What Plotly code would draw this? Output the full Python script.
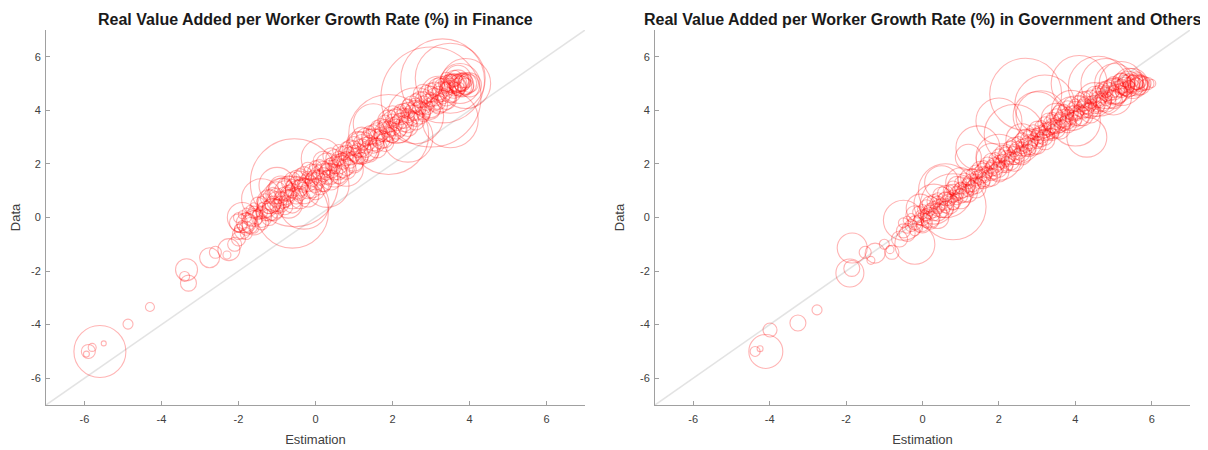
import plotly.graph_objects as go

# ---------------- Data: Finance ----------------
fin_est = [
    # lower tail
    -5.6, -5.9, -5.8, -5.95, -5.5, -4.87, -4.3,
    -3.35, -3.3, -3.4, -2.75, -2.6, -2.25, -2.1, -2.3,
    # band
    -2.0, -2.0, -2.0, -2.0, -2.0,
    -1.9, -1.9, -1.9,
    -1.8, -1.8, -1.8, -1.8, -1.8,
    -1.7, -1.7, -1.7,
    -1.6, -1.6, -1.6, -1.6, -1.6,
    -1.5, -1.5, -1.5,
    -1.4, -1.4, -1.4, -1.4, -1.4,
    -1.3, -1.3, -1.3,
    -1.2, -1.2, -1.2, -1.2, -1.2,
    -1.1, -1.1, -1.1,
    -1.0, -1.0, -1.0, -1.0, -1.0,
    -0.9, -0.9, -0.9,
    -0.8, -0.8, -0.8, -0.8, -0.8,
    -0.7, -0.7, -0.7,
    -0.6, -0.6, -0.6, -0.6, -0.6,
    -0.5, -0.5, -0.5,
    -0.4, -0.4, -0.4, -0.4, -0.4,
    -0.3, -0.3, -0.3,
    -0.2, -0.2, -0.2, -0.2, -0.2,
    -0.1, -0.1, -0.1,
    0.0, 0.0, 0.0, 0.0, 0.0,
    0.1, 0.1, 0.1,
    0.2, 0.2, 0.2, 0.2, 0.2,
    0.3, 0.3, 0.3,
    0.4, 0.4, 0.4, 0.4, 0.4,
    0.5, 0.5, 0.5,
    0.6, 0.6, 0.6, 0.6, 0.6,
    0.7, 0.7, 0.7,
    0.8, 0.8, 0.8, 0.8, 0.8,
    0.9, 0.9, 0.9,
    1.0, 1.0, 1.0, 1.0, 1.0,
    1.1, 1.1, 1.1,
    1.2, 1.2, 1.2, 1.2, 1.2,
    1.3, 1.3, 1.3,
    1.4, 1.4, 1.4, 1.4, 1.4,
    1.5, 1.5, 1.5,
    1.6, 1.6, 1.6, 1.6, 1.6,
    1.7, 1.7, 1.7,
    1.8, 1.8, 1.8, 1.8, 1.8,
    1.9, 1.9, 1.9,
    2.0, 2.0, 2.0, 2.0, 2.0,
    2.1, 2.1, 2.1,
    2.2, 2.2, 2.2, 2.2, 2.2,
    2.3, 2.3, 2.3,
    2.4, 2.4, 2.4, 2.4, 2.4,
    2.5, 2.5, 2.5,
    2.6, 2.6, 2.6, 2.6, 2.6,
    2.7, 2.7, 2.7,
    2.8, 2.8, 2.8, 2.8, 2.8,
    2.9, 2.9, 2.9,
    3.0, 3.0, 3.0, 3.0, 3.0,
    3.1, 3.1, 3.1,
    3.2, 3.2, 3.2, 3.2, 3.2,
    3.3, 3.3, 3.3,
    3.4, 3.4, 3.4, 3.4, 3.4,
    3.5, 3.5, 3.5, 3.5,
    3.6, 3.6, 3.6, 3.6, 3.6,
    3.7, 3.7, 3.7, 3.7, 3.7,
    3.8, 3.8, 3.8, 3.8, 3.8,
    3.9, 3.9, 3.9,
    4.0, 4.0,
    # medium / large circles
    -0.55, -0.6, -0.3, -1.9, -1.4, -1.0, 0.15, 0.3, 0.8,
    1.9, 1.5, 2.4, 3.0, 3.5, 3.3, 3.9, 3.5, 2.6,
    -0.9, 0.5, 1.2, 2.1, 3.2, 3.75,
]
fin_data = [
    -5.0, -5.0, -4.85, -5.1, -4.7, -3.98, -3.34,
    -1.95, -2.45, -2.2, -1.5, -1.3, -1.2, -1.0, -1.4,
    -0.6, -0.2, -0.4, 0.0, -0.8,
    -0.3, -0.5, 0.1,
    -0.4, 0.0, -0.2, 0.2, -0.6,
    -0.1, 0.3, -0.3,
    0.0, -0.4, 0.2, 0.4, -0.2,
    0.1, 0.5, -0.1,
    0.2, 0.0, 0.4, 0.6, -0.2,
    0.3, 0.7, 0.1,
    0.4, 0.2, 0.6, 0.8, 0.0,
    0.5, 0.9, 0.3,
    0.6, 0.4, 0.8, 1.0, 0.2,
    0.7, 1.1, 0.5,
    0.8, 0.6, 1.0, 1.2, 0.4,
    0.9, 1.3, 0.5,
    1.0, 0.7, 1.2, 1.4, 0.5,
    1.1, 0.8, 1.5,
    1.1, 0.9, 1.4, 1.6, 0.7,
    1.2, 1.0, 1.6,
    1.3, 1.0, 1.5, 1.8, 0.8,
    1.4, 1.1, 1.7,
    1.4, 1.2, 1.7, 1.9, 1.0,
    1.5, 1.3, 1.9,
    1.6, 1.3, 1.8, 2.1, 1.2,
    1.7, 1.5, 2.0,
    1.8, 1.5, 2.0, 2.3, 1.4,
    1.9, 1.7, 2.2,
    2.0, 1.7, 2.2, 2.5, 1.6,
    2.1, 1.9, 2.4,
    2.2, 1.9, 2.4, 2.6, 1.8,
    2.3, 2.1, 2.6,
    2.4, 2.1, 2.6, 2.8, 2.0,
    2.5, 2.3, 2.8,
    2.6, 2.3, 2.8, 3.0, 2.2,
    2.7, 2.5, 3.0,
    2.8, 2.5, 3.0, 3.2, 2.4,
    2.9, 2.7, 3.2,
    3.0, 2.7, 3.2, 3.4, 2.6,
    3.1, 2.9, 3.4,
    3.2, 2.9, 3.4, 3.6, 2.8,
    3.3, 3.1, 3.6,
    3.4, 3.1, 3.6, 3.8, 3.0,
    3.5, 3.3, 3.8,
    3.6, 3.3, 3.8, 4.0, 3.2,
    3.7, 3.5, 4.0,
    3.8, 3.5, 4.0, 4.2, 3.4,
    3.9, 3.7, 4.2,
    4.0, 3.7, 4.2, 4.4, 3.6,
    4.1, 3.9, 4.4,
    4.2, 3.9, 4.4, 4.6, 3.8,
    4.3, 4.1, 4.6,
    4.4, 4.1, 4.6, 4.8, 4.0,
    4.5, 4.3, 4.8,
    4.6, 4.3, 4.8, 5.0, 4.2,
    4.7, 4.5, 4.9,
    4.8, 4.5, 5.0, 5.2, 4.4,
    4.9, 4.7, 5.1, 5.0,
    5.0, 4.8, 5.2, 4.9, 5.1,
    5.0, 4.9, 5.1, 4.8, 5.2,
    5.0, 4.9, 5.1, 4.95, 5.05,
    5.0, 4.9, 5.1,
    5.0, 4.95,
    1.3, 0.2, 0.5, 0.0, 0.7, 1.2, 2.2, 1.2, 1.8,
    3.1, 3.5, 3.0, 4.5, 5.2, 5.1, 5.0, 3.65, 3.8,
    0.9, 1.7, 2.6, 3.4, 4.6, 5.0,
]
fin_size = [
    52, 14, 8, 6, 5, 10, 9,
    22, 16, 10, 20, 12, 22, 14, 8,
    12, 18, 8, 10, 14,
    10, 16, 8,
    14, 10, 20, 8, 12,
    12, 8, 16,
    18, 10, 12, 8, 24,
    10, 14, 8,
    12, 20, 8, 10, 14,
    16, 10, 12,
    14, 18, 24, 12, 16,
    16, 12, 22,
    20, 14, 16, 18, 12,
    14, 24, 16,
    18, 12, 20, 14, 16,
    16, 14, 28,
    14, 20, 12, 16, 18,
    22, 16, 14,
    16, 14, 18, 12, 20,
    14, 26, 16,
    18, 16, 12, 14, 22,
    14, 20, 16,
    20, 14, 16, 12, 18,
    16, 24, 14,
    14, 18, 16, 20, 12,
    16, 14, 22,
    18, 14, 12, 16, 20,
    14, 16, 18,
    20, 16, 14, 12, 18,
    16, 22, 14,
    14, 18, 16, 12, 20,
    18, 14, 16,
    16, 20, 14, 12, 18,
    14, 16, 22,
    18, 14, 16, 20, 12,
    16, 14, 18,
    14, 20, 16, 12, 18,
    22, 16, 14,
    16, 14, 18, 12, 20,
    14, 18, 16,
    20, 16, 14, 12, 18,
    16, 14, 22,
    18, 16, 14, 20, 12,
    14, 20, 16,
    16, 14, 18, 12, 22,
    20, 16, 14,
    14, 18, 16, 12, 20,
    16, 14, 18,
    20, 16, 14, 12, 18,
    14, 22, 16,
    18, 14, 16, 20, 12,
    16, 14, 18,
    14, 20, 16, 12, 18,
    18, 16, 14,
    16, 14, 22, 12, 18,
    20, 14, 16,
    14, 18, 16, 12, 20,
    16, 22, 14, 18,
    20, 14, 16, 24, 12,
    18, 16, 22, 14, 26,
    16, 20, 14, 24, 18,
    22, 16, 14,
    18, 24,
    88, 72, 50, 30, 40, 36, 40, 44, 34,
    80, 40, 50, 100, 70, 84, 50, 56, 56,
    30, 30, 32, 34, 36, 40,
]

# ---------------- Data: Government and Others ----------------
gov_est = [
    # lower tail
    -4.1, -4.38, -4.25, -3.99, -3.26, -2.76, -1.9, -1.85, -1.84, -1.24, -0.8, -0.85, -1.0, -0.6,
    -0.2, -1.5, -1.35, -0.5,
    # band
    -0.5, -0.5,
    -0.4, -0.4, -0.4,
    -0.3, -0.3,
    -0.2, -0.2, -0.2,
    -0.1, -0.1, -0.1,
    0.0, 0.0, 0.0, 0.0, 0.0,
    0.1, 0.1, 0.1,
    0.2, 0.2, 0.2, 0.2, 0.2,
    0.3, 0.3, 0.3,
    0.4, 0.4, 0.4, 0.4, 0.4,
    0.5, 0.5, 0.5,
    0.6, 0.6, 0.6, 0.6, 0.6,
    0.7, 0.7, 0.7,
    0.8, 0.8, 0.8, 0.8, 0.8,
    0.9, 0.9, 0.9,
    1.0, 1.0, 1.0, 1.0, 1.0,
    1.1, 1.1, 1.1,
    1.2, 1.2, 1.2, 1.2, 1.2,
    1.3, 1.3, 1.3,
    1.4, 1.4, 1.4, 1.4, 1.4,
    1.5, 1.5, 1.5,
    1.6, 1.6, 1.6, 1.6, 1.6,
    1.7, 1.7, 1.7,
    1.8, 1.8, 1.8, 1.8, 1.8,
    1.9, 1.9, 1.9,
    2.0, 2.0, 2.0, 2.0, 2.0,
    2.1, 2.1, 2.1,
    2.2, 2.2, 2.2, 2.2, 2.2,
    2.3, 2.3, 2.3,
    2.4, 2.4, 2.4, 2.4, 2.4,
    2.5, 2.5, 2.5,
    2.6, 2.6, 2.6, 2.6, 2.6,
    2.7, 2.7, 2.7,
    2.8, 2.8, 2.8, 2.8, 2.8,
    2.9, 2.9, 2.9,
    3.0, 3.0, 3.0, 3.0, 3.0,
    3.1, 3.1, 3.1,
    3.2, 3.2, 3.2, 3.2, 3.2,
    3.3, 3.3, 3.3,
    3.4, 3.4, 3.4, 3.4, 3.4,
    3.5, 3.5, 3.5,
    3.6, 3.6, 3.6, 3.6, 3.6,
    3.7, 3.7, 3.7,
    3.8, 3.8, 3.8, 3.8, 3.8,
    3.9, 3.9, 3.9,
    4.0, 4.0, 4.0, 4.0, 4.0,
    4.1, 4.1, 4.1,
    4.2, 4.2, 4.2, 4.2, 4.2,
    4.3, 4.3, 4.3,
    4.4, 4.4, 4.4, 4.4, 4.4,
    4.5, 4.5, 4.5,
    4.6, 4.6, 4.6, 4.6, 4.6,
    4.7, 4.7, 4.7,
    4.8, 4.8, 4.8, 4.8, 4.8,
    4.9, 4.9, 4.9,
    5.0, 5.0, 5.0, 5.0, 5.0,
    5.1, 5.1, 5.1,
    5.2, 5.2, 5.2, 5.2, 5.2,
    5.3, 5.3, 5.3,
    5.4, 5.4, 5.4, 5.4, 5.4,
    5.5, 5.5, 5.5,
    5.6, 5.6, 5.6, 5.6, 5.6,
    5.7, 5.7, 5.7,
    5.8, 5.8,
    5.9,
    6.0,
    # medium / large circles
    0.3, 0.6, 0.8, 0.5, 1.2, 1.45, 2.0, -0.06,
    2.7, 3.2, 4.1, 3.1, 4.0, 2.0, 4.3, 2.4, 3.9, 3.0,
    4.8, 5.2, 5.0, 4.6, 5.5, 5.03, 5.4,
    1.0, 1.8, 2.6, 3.5, 4.5,
]
gov_data = [
    -5.0, -5.0, -4.9, -4.2, -3.94, -3.45, -2.07, -1.9, -1.14, -1.33, -1.3, -1.2, -1.0, -0.8,
    -1.0, -1.3, -1.6, -0.1,
    -0.5, -0.2,
    -0.4, -0.6, -0.1,
    -0.3, 0.0,
    -0.2, -0.5, 0.1,
    -0.1, 0.2, -0.4,
    0.0, -0.3, 0.3, 0.1, -0.2,
    0.1, -0.2, 0.4,
    0.2, 0.0, 0.5, 0.3, -0.1,
    0.3, 0.1, 0.6,
    0.4, 0.2, 0.7, 0.5, 0.0,
    0.5, 0.3, 0.8,
    0.6, 0.4, 0.9, 0.7, 0.3,
    0.7, 0.5, 1.0,
    0.8, 0.6, 1.1, 0.9, 0.5,
    0.9, 0.7, 1.2,
    1.0, 0.8, 1.3, 1.1, 0.7,
    1.1, 0.9, 1.4,
    1.2, 1.0, 1.5, 1.3, 0.9,
    1.3, 1.1, 1.6,
    1.4, 1.2, 1.7, 1.5, 1.1,
    1.5, 1.3, 1.8,
    1.6, 1.4, 1.9, 1.7, 1.3,
    1.7, 1.5, 2.0,
    1.8, 1.6, 2.1, 1.9, 1.5,
    1.9, 1.7, 2.2,
    2.0, 1.8, 2.3, 2.1, 1.7,
    2.1, 1.9, 2.4,
    2.2, 2.0, 2.5, 2.3, 1.9,
    2.3, 2.1, 2.6,
    2.4, 2.2, 2.7, 2.5, 2.1,
    2.5, 2.3, 2.8,
    2.6, 2.4, 2.9, 2.7, 2.3,
    2.7, 2.5, 3.0,
    2.8, 2.6, 3.1, 2.9, 2.5,
    2.9, 2.7, 3.2,
    3.0, 2.8, 3.3, 3.1, 2.7,
    3.1, 2.9, 3.4,
    3.2, 3.0, 3.5, 3.3, 2.9,
    3.3, 3.1, 3.6,
    3.4, 3.2, 3.7, 3.5, 3.1,
    3.5, 3.3, 3.8,
    3.6, 3.4, 3.9, 3.7, 3.3,
    3.7, 3.5, 4.0,
    3.8, 3.6, 4.1, 3.9, 3.5,
    3.9, 3.7, 4.2,
    3.9, 3.7, 4.2, 4.0, 3.6,
    4.0, 3.8, 4.3,
    4.1, 3.9, 4.4, 4.2, 3.8,
    4.2, 4.0, 4.5,
    4.2, 4.0, 4.5, 4.3, 3.9,
    4.3, 4.1, 4.6,
    4.4, 4.2, 4.7, 4.5, 4.1,
    4.5, 4.3, 4.8,
    4.6, 4.4, 4.8, 4.7, 4.3,
    4.7, 4.5, 4.9,
    4.7, 4.5, 5.0, 4.8, 4.4,
    4.8, 4.6, 5.0,
    4.9, 4.7, 5.1, 4.8, 5.0,
    4.9, 4.8, 5.1,
    5.0, 4.8, 5.1, 4.9, 5.05,
    5.0, 4.9, 5.1,
    5.0, 4.9, 5.05, 4.95, 5.1,
    5.0, 4.95, 5.05,
    5.0, 4.95,
    5.0,
    5.0,
    0.5, 1.0, 0.4, 1.3, 2.25, 2.6, 2.25, 0.35,
    4.6, 4.2, 5.0, 3.8, 3.6, 3.6, 3.0, 3.1, 4.0, 3.8,
    5.0, 5.0, 4.5, 4.9, 5.0, 5.0, 5.05,
    1.3, 2.2, 2.9, 3.7, 4.4,
]
gov_size = [
    34, 10, 6, 14, 16, 10, 28, 16, 30, 20, 14, 8, 10, 16,
    40, 12, 8, 40,
    14, 10,
    10, 16, 8,
    12, 8,
    14, 10, 18,
    10, 12, 8,
    16, 12, 10, 8, 20,
    12, 10, 14,
    14, 20, 16, 12, 18,
    16, 12, 14,
    14, 18, 12, 16, 22,
    12, 16, 18,
    18, 12, 16, 14, 16,
    14, 20, 12,
    12, 16, 14, 18, 12,
    14, 12, 18,
    16, 14, 12, 12, 20,
    12, 18, 14,
    14, 12, 16, 12, 18,
    18, 14, 12,
    12, 16, 14, 12, 20,
    14, 12, 16,
    16, 14, 12, 18, 12,
    12, 20, 14,
    14, 12, 16, 12, 18,
    18, 14, 12,
    12, 16, 14, 12, 20,
    14, 12, 16,
    16, 14, 12, 18, 12,
    12, 18, 14,
    14, 12, 16, 12, 20,
    18, 14, 12,
    12, 16, 14, 12, 18,
    14, 12, 16,
    16, 14, 12, 18, 12,
    12, 20, 14,
    14, 12, 16, 12, 18,
    18, 14, 12,
    12, 16, 14, 12, 20,
    14, 12, 16,
    16, 14, 12, 18, 12,
    12, 18, 14,
    14, 12, 16, 12, 20,
    18, 14, 12,
    12, 16, 14, 12, 18,
    14, 12, 16,
    16, 14, 12, 18, 12,
    12, 20, 14,
    14, 12, 16, 12, 20,
    18, 14, 12,
    12, 16, 14, 12, 20,
    14, 12, 16,
    16, 14, 12, 18, 12,
    12, 18, 14,
    14, 12, 16, 12, 20,
    18, 14, 12,
    12, 16, 14, 22, 18,
    16, 20, 12,
    14, 12, 16, 12, 20,
    18, 14, 12,
    12, 16, 14, 12, 22,
    16, 14, 12,
    12, 16, 14, 22, 18,
    16, 20, 12,
    14, 10,
    12,
    8,
    40, 54, 66, 34, 26, 44, 46, 28,
    72, 60, 56, 50, 50, 46, 40, 60, 40, 48,
    50, 44, 36, 60, 30, 40, 28,
    30, 30, 32, 30, 34,
]

assert len(fin_est) == len(fin_data) == len(fin_size)
assert len(gov_est) == len(gov_data) == len(gov_size)

ref_line = [-7, 7]
tick_vals = [-6, -4, -2, 0, 2, 4, 6]
tick_text = ["-6", "-4", "-2", "0", "2", "4", "6"]
titles = [
    "Real Value Added per Worker Growth Rate (%) in Finance",
    "Real Value Added per Worker Growth Rate (%) in Government and Others",
]

# the page body adds an 8px margin, so the figure is laid out 8px smaller
OFF = 8
W, H = 1208 - OFF, 450 - OFF
FONT = "Liberation Sans, Arial, sans-serif"
circle_line = "rgba(255,0,0,0.42)"

fig = go.Figure()
panels = [(fin_est, fin_data, fin_size, "x", "y"), (gov_est, gov_data, gov_size, "x2", "y2")]
for est, dat, sz, xa, ya in panels:
    fig.add_trace(go.Scatter(
        x=ref_line, y=ref_line, mode="lines", xaxis=xa, yaxis=ya,
        line=dict(color="rgba(200,200,200,0.5)", width=1.5),
        hoverinfo="skip", showlegend=False))
    fig.add_trace(go.Scatter(
        x=est, y=dat, mode="markers", xaxis=xa, yaxis=ya,
        marker=dict(size=sz, sizemode="diameter", color="rgba(0,0,0,0)",
                    line=dict(color=circle_line, width=1.1)),
        showlegend=False))

px_x1 = (46 - OFF, 585 - OFF)
px_x2 = (655 - OFF, 1190 - OFF)
px_y = (30 - OFF, 405 - OFF)
dom_x1 = [px_x1[0] / W, px_x1[1] / W]
dom_x2 = [px_x2[0] / W, px_x2[1] / W]
dom_y = [1 - px_y[1] / H, 1 - px_y[0] / H]

axis_common = dict(
    range=[-7, 7], tickvals=tick_vals, ticktext=tick_text,
    ticks="inside", ticklen=4, tickcolor="#a0a0a0",
    showline=True, linecolor="#a0a0a0", linewidth=1,
    showgrid=False, zeroline=False, mirror=False, automargin=False,
    tickfont=dict(family=FONT, size=11, color="#404040"),
)
lab_font = dict(family=FONT, size=13, color="#404040")

title_y = 1 - (19 - OFF) / H
fig.update_layout(
    width=W, height=H,
    margin=dict(l=0, r=0, t=0, b=0),
    paper_bgcolor="white", plot_bgcolor="white",
    xaxis=dict(domain=dom_x1, anchor="y", **axis_common, ticklabelstandoff=4,
               title=dict(text="Estimation", font=lab_font, standoff=10)),
    yaxis=dict(domain=dom_y, anchor="x", **axis_common, ticklabelstandoff=2,
               title=dict(text="Data", font=lab_font, standoff=12)),
    xaxis2=dict(domain=dom_x2, anchor="y2", **axis_common, ticklabelstandoff=4,
                title=dict(text="Estimation", font=lab_font, standoff=10)),
    yaxis2=dict(domain=dom_y, anchor="x2", **axis_common, ticklabelstandoff=2,
                title=dict(text="Data", font=lab_font, standoff=12)),
    annotations=[
        dict(text="<b>%s</b>" % titles[0], x=(dom_x1[0] + dom_x1[1]) / 2, y=title_y,
             xref="paper", yref="paper", showarrow=False, xanchor="center", yanchor="middle",
             font=dict(family=FONT, size=16, color="#1a1a1a")),
        dict(text="<b>%s</b>" % titles[1], x=(dom_x2[0] + dom_x2[1]) / 2, y=title_y,
             xref="paper", yref="paper", showarrow=False, xanchor="center", yanchor="middle",
             font=dict(family=FONT, size=16, color="#1a1a1a")),
    ],
)

fig.write_html("out.html")
